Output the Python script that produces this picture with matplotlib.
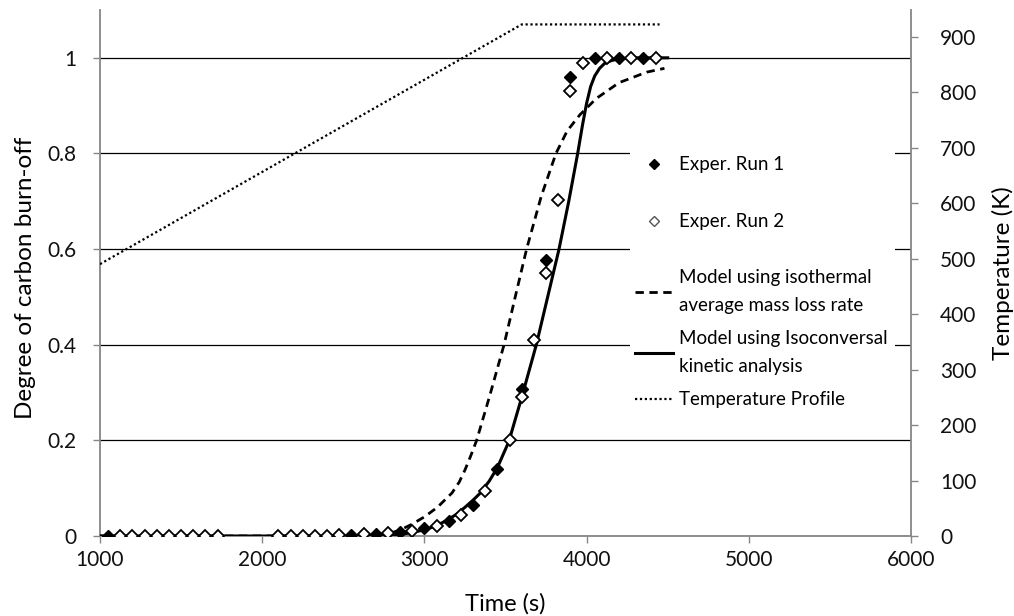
import matplotlib
matplotlib.use("Agg")
import matplotlib.pyplot as plt
from matplotlib.lines import Line2D
from matplotlib.patches import Rectangle

plt.rcParams['font.family'] = ['Lato', 'DejaVu Sans']

# Experimental points (time in s, degree of carbon burn-off)
run1_t = [1050, 2550, 2700, 2850, 3000, 3150, 3300, 3450, 3600, 3750, 3900, 4050, 4200, 4350]
run1_x = [0, 0.002, 0.005, 0.008, 0.016, 0.032, 0.064, 0.14, 0.307, 0.577, 0.96, 1.0, 1.0, 1.0]

run2_t = [1125, 1200, 1275, 1350, 1425, 1500, 1575, 1650, 1725,
          2100, 2175, 2250, 2325, 2400, 2475, 2625, 2775, 2925, 3075, 3225, 3375,
          3525, 3600, 3675, 3750, 3825, 3900, 3975, 4125, 4275, 4425]
run2_x = [0, 0, 0, 0, 0, 0, 0, 0, 0,
          0, 0, 0, 0, 0.001, 0.002, 0.004, 0.006, 0.01, 0.021, 0.043, 0.095,
          0.2, 0.29, 0.41, 0.551, 0.703, 0.93, 0.99, 1.0, 1.0, 1.0]

# Model: isothermal average mass loss rate
iso_t = [1000, 2700, 2730, 2800, 2850, 2920, 3000, 3080, 3170, 3215, 3250, 3285, 3322,
         3400, 3491, 3560, 3630, 3720, 3811, 3880, 3959, 4060, 4200, 4370, 4480]
iso_x = [0, 0, 0.002, 0.007, 0.0125, 0.024, 0.04, 0.06, 0.09, 0.113, 0.138, 0.167, 0.2,
         0.29, 0.4, 0.5, 0.6, 0.71, 0.8, 0.847, 0.881, 0.915, 0.948, 0.97, 0.978]

# Model: isoconversional kinetic analysis
kin_t = [1000, 2700, 2830, 2920, 3000, 3070, 3140, 3200, 3250, 3300, 3345, 3400,
         3450, 3520, 3600, 3690, 3760, 3830, 3890, 3945, 3975, 4000, 4025,
         4050, 4080, 4110, 4150, 4200, 4300, 4500]
kin_x = [0, 0, 0.002, 0.007, 0.013, 0.021, 0.033, 0.046, 0.06, 0.075, 0.09, 0.115,
         0.143, 0.197, 0.29, 0.40, 0.50, 0.60, 0.70, 0.80, 0.86, 0.905, 0.94,
         0.962, 0.978, 0.988, 0.994, 0.998, 1.0, 1.0]

# Temperature profile (K)
temp_t = [1000, 3600, 4450]
temp_K = [490, 922, 922]

grey = '#868686'
W, H = 1014, 616

fig = plt.figure(figsize=(10.14, 6.16), dpi=100)
ax = fig.add_axes([100 / W, 80 / H, 811 / W, 526 / H])
ax2 = ax.twinx()

ax.plot(iso_t, iso_x, color='black', lw=2.0, dashes=(3, 2), zorder=3)
ax.plot(kin_t, kin_x, color='black', lw=2.2, zorder=3)
ax.plot(run1_t, run1_x, ls='none', marker='D', ms=6, color='black', zorder=4)
ax.plot(run2_t, run2_x, ls='none', marker='D', ms=6, mfc='white', mec='black',
        mew=1.3, zorder=5)
ax2.plot(temp_t, temp_K, color='black', lw=1.6, ls=(0, (1, 1.2)))

ax.set_xlim(1000, 6000)
ax.set_ylim(0, 1.1)
ax.set_xticks([1000, 2000, 3000, 4000, 5000, 6000])
ax.set_yticks([0, 0.2, 0.4, 0.6, 0.8, 1.0])
ax.set_yticklabels(['0', '0.2', '0.4', '0.6', '0.8', '1'])
ax2.set_ylim(0, 948)
ax2.set_yticks(range(0, 1000, 100))

ax.yaxis.grid(True, color='black', lw=0.9)
ax.set_axisbelow(True)

for a in (ax, ax2):
    a.spines['top'].set_visible(False)
ax.spines['right'].set_visible(False)
ax2.spines['left'].set_visible(False)
ax2.spines['bottom'].set_visible(False)
for s in ('left', 'bottom'):
    ax.spines[s].set_color(grey)
    ax.spines[s].set_linewidth(1.3)
ax2.spines['right'].set_color(grey)
ax2.spines['right'].set_linewidth(1.3)

ax.tick_params(axis='x', direction='out', length=5, width=1, color=grey,
               labelsize=15, labelcolor='#111111', pad=5)
ax.tick_params(axis='y', direction='out', length=5, width=1, color=grey,
               labelsize=15, labelcolor='#111111', pad=12)
ax2.tick_params(axis='y', direction='out', length=5, width=1, color=grey,
                labelsize=15, labelcolor='#111111', pad=16)

ax.set_xlabel('Time (s)', fontsize=17)
ax.set_ylabel('Degree of carbon burn-off', fontsize=17.5)
ax2.set_ylabel('Temperature (K)', fontsize=17.5)
ax.xaxis.set_label_coords(0.5, -0.108)
ax.yaxis.set_label_coords(-0.079, 0.49)
ax2.yaxis.set_label_coords(1.1, 0.5)

# white legend area that breaks the gridlines
ax2.add_patch(Rectangle((630 / W, 1 - 410 / H), 265 / W, 270 / H,
                        transform=fig.transFigure, facecolor='white',
                        edgecolor='none', zorder=4))

# Legends
h_run1 = Line2D([], [], ls='none', marker='D', ms=5, color='black')
h_run2 = Line2D([], [], ls='none', marker='D', ms=5, mfc='white', mec='#555555', mew=1)
h_iso = Line2D([], [], color='black', lw=2.0, dashes=(3, 2))
h_kin = Line2D([], [], color='black', lw=2.2)
h_tmp = Line2D([], [], color='black', lw=1.6, ls=(0, (1, 1.2)))

leg_kw = dict(loc='upper left', bbox_transform=fig.transFigure, fontsize=13.5,
              frameon=False, borderpad=0.5, handlelength=2.0,
              handletextpad=0.32, borderaxespad=0)
leg1 = ax2.legend([h_run1, h_run2], ['Exper. Run 1', 'Exper. Run 2'],
                  bbox_to_anchor=(626 / W, 1 - 147 / H), labelspacing=2.14, **leg_kw)
ax2.add_artist(leg1)
leg2 = ax2.legend([h_iso, h_kin, h_tmp],
                  ['Model using isothermal\naverage mass loss rate',
                   'Model using Isoconversal\nkinetic analysis',
                   'Temperature Profile'],
                  bbox_to_anchor=(626 / W, 1 - 260 / H), labelspacing=0.86, **leg_kw)
for t in leg2.get_texts():
    t.set_linespacing(1.78)

fig.savefig('out.png', dpi=100)
